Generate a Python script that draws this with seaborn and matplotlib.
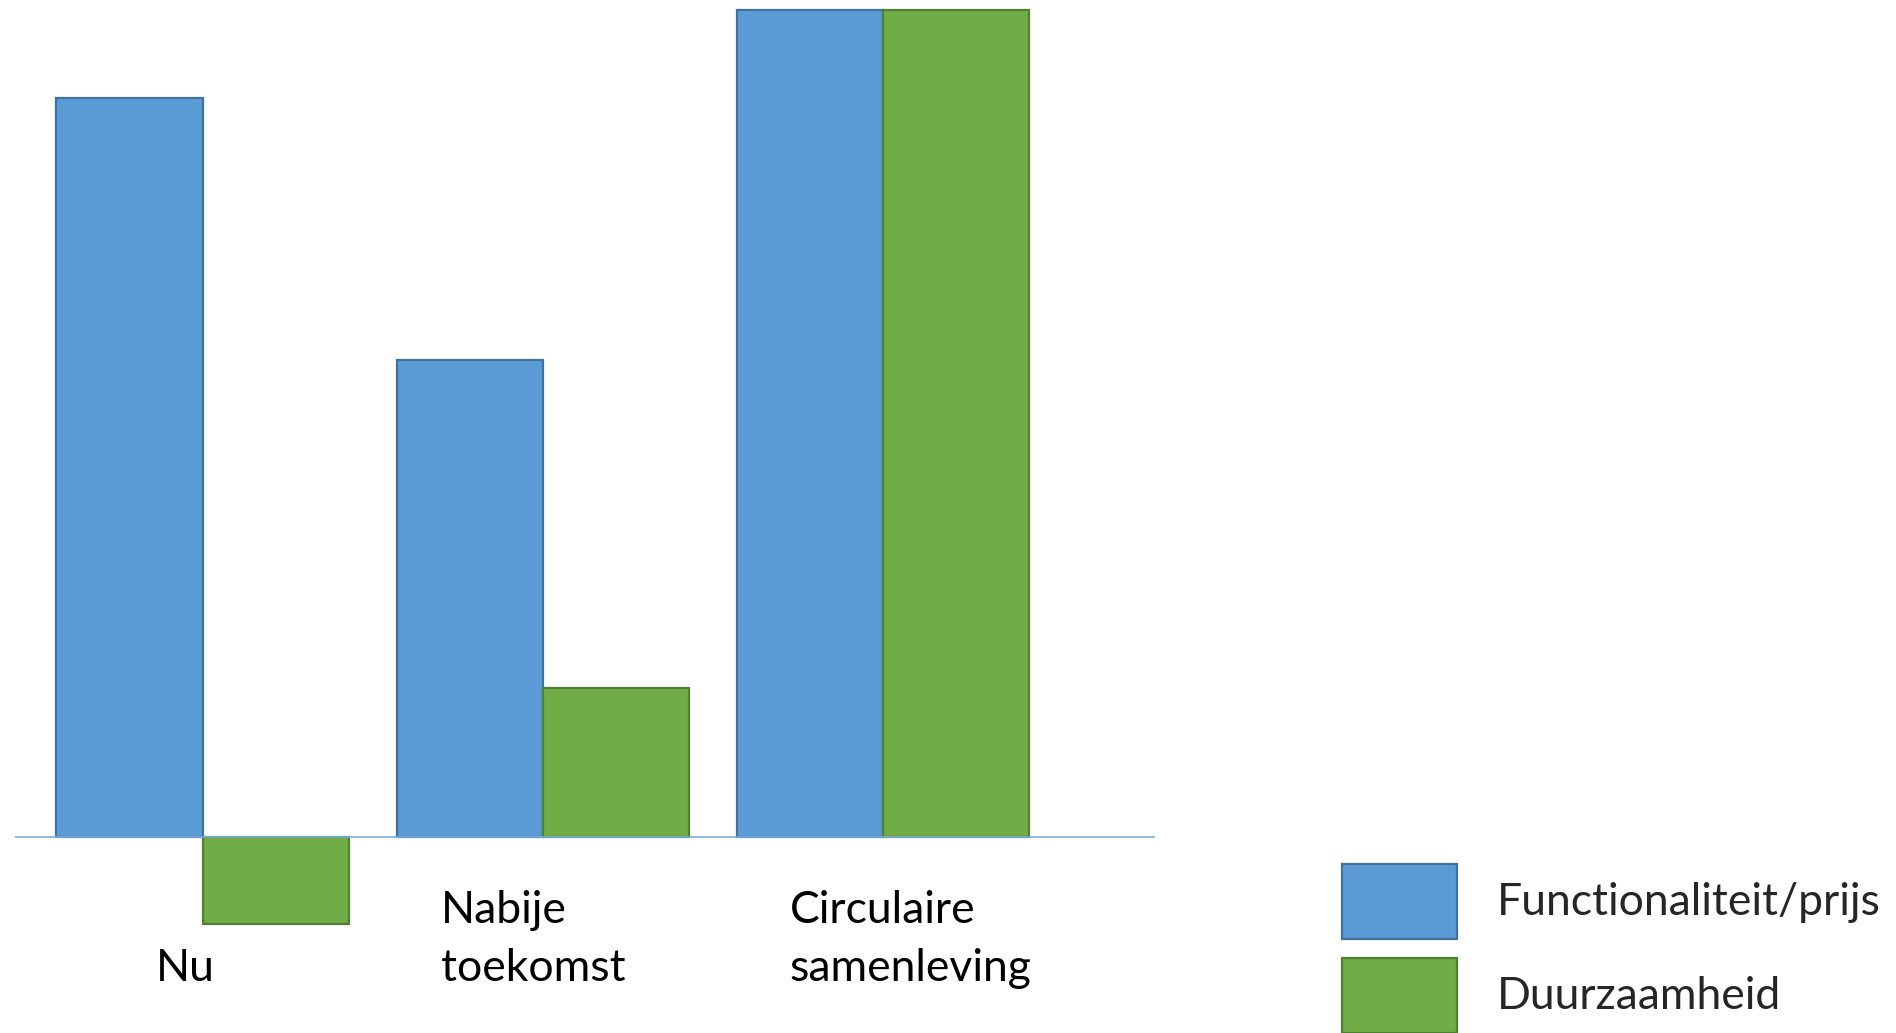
import matplotlib
matplotlib.use("Agg")
import matplotlib.pyplot as plt
import seaborn as sns
import pandas as pd
from matplotlib.patches import Patch

categories = ["Nu", "Nabije\ntoekomst", "Circulaire\nsamenleving"]
series_names = ["Functionaliteit/prijs", "Duurzaamheid"]
functionaliteit = [89.3, 57.7, 100.0]
duurzaamheid = [-10.5, 18.0, 100.0]

face_colors = ["#5B9BD5", "#70AD47"]
edge_colors = ["#41719C", "#507E32"]

rows = []
for c, v in zip(categories, functionaliteit):
    rows.append({"cat": c, "series": series_names[0], "val": v})
for c, v in zip(categories, duurzaamheid):
    rows.append({"cat": c, "series": series_names[1], "val": v})
df = pd.DataFrame(rows)

sns.set_theme(style="white")
plt.rcParams["font.family"] = ["Lato", "DejaVu Sans"]

fig = plt.figure(figsize=(18.96, 10.33), dpi=100)
ax = fig.add_axes([0.0077, 0.0, 0.6015, 1.0])

sns.barplot(data=df, x="cat", y="val", hue="series", order=categories,
            hue_order=series_names, palette=face_colors, saturation=1,
            width=0.86, gap=0, ax=ax, legend=False, zorder=2)
for cont, ec in zip(ax.containers, edge_colors):
    for p in cont:
        p.set_edgecolor(ec)
        p.set_linewidth(1.6)

ax.axhline(0, color="#7AAEDC", lw=1.2, zorder=3)
ax.set_xlim(-0.553, 2.8)
ax.set_ylim(-23.7, 101.2)
ax.set_xticks([])
ax.set_yticks([])
ax.set_xlabel("")
ax.set_ylabel("")
for s in ax.spines.values():
    s.set_visible(False)

# category labels (left aligned, last line on a common baseline)
label_x = [-0.137, 0.70, 1.726]
for x, lab in zip(label_x, categories):
    ax.text(x, -17.4, lab, ha="left", va="baseline", fontsize=32,
            linespacing=1.52, color="black")

handles = [Patch(facecolor=fc, edgecolor=ec, linewidth=1.6)
           for fc, ec in zip(face_colors, edge_colors)]
fig.legend(handles, series_names, loc="upper left",
           bbox_to_anchor=(0.708, 0.164), frameon=False, fontsize=32,
           handlelength=2.59, handleheight=2.22, labelspacing=0.43,
           handletextpad=0.88, borderpad=0, borderaxespad=0)

fig.savefig("out.png", dpi=100, facecolor="white")
